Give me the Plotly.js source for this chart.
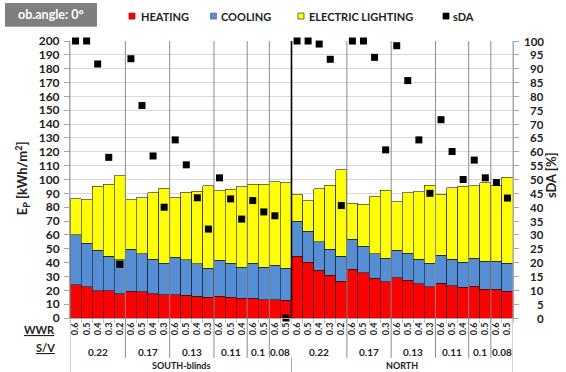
<!DOCTYPE html>
<html>
<head>
<meta charset="utf-8">
<script src="https://cdn.plot.ly/plotly-3.0.1.min.js"></script>
<style>html,body{margin:0;padding:0;background:#fff;}#chart{width:566px;height:372px;}</style>
</head>
<body>
<div id="chart"></div>
<script>
// ---- data ----
var wwr = ['0.6','0.5','0.4','0.3','0.2','0.6','0.5','0.4','0.3','0.6','0.5','0.4','0.3','0.6','0.5','0.4','0.6','0.5','0.6','0.5',
           '0.6','0.5','0.4','0.3','0.2','0.6','0.5','0.4','0.3','0.6','0.5','0.4','0.3','0.6','0.5','0.4','0.6','0.5','0.6','0.5'];
var svLabels = ['0.22','0.17','0.13','0.11','0.1','0.08'];
var svCounts = [5,4,4,3,2,2];
var regions = ['SOUTH-blinds','NORTH'];
var heating = [24,22.6,19.7,19.5,17.5,19.2,18.8,17.5,16.8,16.8,16.3,15.6,15.1,15.6,14.9,14.2,14.4,13.2,13.2,12.7,
               44.5,40.4,34.4,31,26.7,35.3,32.5,28.6,26,29.1,27.2,24.8,22.4,25.2,23.3,22.1,22.8,20.9,20.9,19.2];
var cooling = [36,31.4,29.1,25,24.5,30.6,27.6,25,22.9,27.2,25.7,23.4,20.9,26,24.8,22.6,25.3,23.6,25,23.1,
               25.2,22.1,20.6,18.8,17.8,21.4,19.2,17.8,17.3,19.7,19.7,17.7,17.3,20,19.2,18.3,20.2,20,20.2,20.2];
var lighting = [26,31.3,46.4,51.9,60.6,35.5,40.4,48.1,54.1,42.8,48.9,52.6,59.4,50.2,53.3,57.9,56.9,59.8,60.1,62,
                19.2,22.1,38.3,46.1,62.5,26.2,30.5,41.3,49,35.3,43.7,48.8,56.2,44,51.5,54.8,52.4,56.9,54.8,62.3];
var sda = [100,100,91.7,58,19.4,93.6,76.7,58.5,40,64.3,55.3,43.4,32.1,50.6,43,35.7,42.4,38.3,36.9,0,
           100,100,98.9,93.4,40.6,100,100,94.1,60.7,98.3,85.7,64.3,45,71.6,60.1,50,57,50.6,48.9,43.3];
var leftTicks = [0,10,20,30,40,50,60,70,80,90,100,110,120,130,140,150,160,170,180,190,200];
var rightTicks = [0,5,10,15,20,25,30,35,40,45,50,55,60,65,70,75,80,85,90,95,100];

// ---- build ----
var xs = wwr.map(function(_, i){ return i; });
var FONT = 'Lato, "Liberation Sans", sans-serif';
var outline = {color:'#1a1a1a', width:0.6};

var traces = [
  {type:'bar', x:xs, y:heating, name:'HEATING', marker:{color:'#FF0000', line:outline}},
  {type:'bar', x:xs, y:cooling, name:'COOLING', marker:{color:'#558ED5', line:outline}},
  {type:'bar', x:xs, y:lighting, name:'ELECTRIC LIGHTING', marker:{color:'#FFFF00', line:outline}},
  {type:'scatter', mode:'markers', x:xs, y:sda, yaxis:'y2', name:'sDA', cliponaxis:false,
   marker:{symbol:'square', size:7, color:'#000'}}
];

var shapes = [], annotations = [];
var perRegion = wwr.length / regions.length;
// group separators and labels
for (var r = 0; r < regions.length; r++) {
  var start = r * perRegion;
  var pos = start;
  for (var g = 0; g < svCounts.length; g++) {
    var center = pos + (svCounts[g] - 1) / 2;
    annotations.push({x:center, xref:'x', y:-0.123, yref:'paper', text:svLabels[g], showarrow:false,
      font:{family:FONT, size:10, color:'#222', weight:700}, xanchor:'center', yanchor:'middle'});
    pos += svCounts[g];
    if (g < svCounts.length - 1) {
      shapes.push({type:'line', xref:'x', yref:'paper', x0:pos-0.5, x1:pos-0.5, y0:-0.144, y1:1,
        line:{color:'#8c8c8c', width:1}, layer:'above'});
    }
  }
  annotations.push({x:start + (perRegion-1)/2, xref:'x', y:-0.172, yref:'paper', text:regions[r], showarrow:false,
    font:{family:FONT, size:9, color:'#222', weight:700}, xanchor:'center', yanchor:'middle'});
}
// edges
shapes.push({type:'line', xref:'x', yref:'paper', x0:-0.5, x1:-0.5, y0:-0.195, y1:1, line:{color:'#a6a6a6', width:1}});
shapes.push({type:'line', xref:'x', yref:'paper', x0:wwr.length-0.5, x1:wwr.length-0.5, y0:-0.195, y1:1, line:{color:'#a6a6a6', width:1}});
shapes.push({type:'line', xref:'x', yref:'paper', x0:perRegion-0.5, x1:perRegion-0.5, y0:-0.195, y1:-0.144, line:{color:'#a6a6a6', width:1}});
shapes.push({type:'line', xref:'x', yref:'paper', x0:perRegion-0.5, x1:perRegion-0.5, y0:0, y1:1, line:{color:'#000', width:1.6}, layer:'above'});

// row labels
annotations.push({x:-0.03, xref:'paper', y:-0.04, yref:'paper', text:'<u>WWR</u>', showarrow:false, xanchor:'right', yanchor:'middle',
  font:{family:FONT, size:11, color:'#222', weight:700}});
annotations.push({x:-0.03, xref:'paper', y:-0.108, yref:'paper', text:'<u>S/V</u>', showarrow:false, xanchor:'right', yanchor:'middle',
  font:{family:FONT, size:11, color:'#222', weight:700}});

// axis titles
annotations.push({x:-0.108, xref:'paper', y:0.505, yref:'paper', text:'E<sub>P</sub> [kWh/m<sup>2</sup>]', showarrow:false,
  textangle:-90, xanchor:'center', yanchor:'middle', font:{family:FONT, size:13, color:'#222', weight:700}});
annotations.push({x:1.0858, xref:'paper', y:0.516, yref:'paper', text:'sDA [%]', showarrow:false,
  textangle:-90, xanchor:'center', yanchor:'middle', font:{family:FONT, size:13, color:'#222', weight:700}});

// right axis labels (right-aligned)
rightTicks.forEach(function(v){
  annotations.push({x:1.0722, xref:'paper', y:v, yref:'y2', text:String(v), showarrow:false, xanchor:'right', yanchor:'middle',
    height:11, borderpad:0, valign:'middle',
    font:{family:FONT, size:11.5, color:'#222', weight:700}});
});

// top box and legend
shapes.push({type:'rect', xref:'paper', yref:'paper', x0:-0.1467, x1:0.0609, y0:1.051, y1:1.137, fillcolor:'#7f7f7f', line:{width:0}});
annotations.push({x:-0.0429, xref:'paper', y:1.094, yref:'paper', text:'ob.angle: 0°', showarrow:false, xanchor:'center', yanchor:'middle',
  font:{family:FONT, size:12.5, color:'#fff', weight:700}});
var legendItems = [
  {px:132, tx:139, color:'#FF0000', line:'#b00000'},
  {px:213.5, tx:219, color:'#558ED5', line:'#3a6aa8'},
  {px:301, tx:307, color:'#FFFF00', line:'#333'},
  {px:446, tx:451, color:'#000000', line:'#000'}
];
legendItems.forEach(function(it, i){
  var xp = (it.px - 70) / 443;
  shapes.push({type:'rect', xref:'paper', yref:'paper', xsizemode:'pixel', ysizemode:'pixel', xanchor:xp, yanchor:1.09,
    x0:-3, x1:3, y0:-3, y1:3, fillcolor:it.color, line:{color:it.line, width:0.7}});
  annotations.push({x:(it.tx - 70)/443, xref:'paper', y:1.09, yref:'paper', text:traces[i].name, showarrow:false,
    xanchor:'left', yanchor:'middle', font:{family:FONT, size:11, color:'#222', weight:700}});
});

var layout = {
  width:566, height:372,
  margin:{l:70, r:53, t:41, b:54, pad:0},
  paper_bgcolor:'#fff', plot_bgcolor:'#fff',
  barmode:'stack', bargap:0, showlegend:false,
  font:{family:FONT, color:'#222'},
  xaxis:{range:[-0.5, wwr.length-0.5], tickvals:xs, ticktext:wwr, tickangle:-90, ticks:'',
    tickfont:{family:FONT, size:9, color:'#222', weight:700}, showgrid:false, zeroline:false,
    showline:true, linecolor:'#a6a6a6', linewidth:1,
    minor:{tick0:0.5, dtick:1, ticks:'outside', ticklen:4, tickcolor:'#bfbfbf', showgrid:false}},
  yaxis:{range:[0,200], tickvals:leftTicks, ticks:'outside', ticklen:5, tickcolor:'#a6a6a6',
    tickfont:{family:FONT, size:12, color:'#222', weight:700}, ticklabelstandoff:2,
    showgrid:true, gridcolor:'#d9d9d9', gridwidth:1, zeroline:false, showline:true, linecolor:'#a6a6a6'},
  yaxis2:{range:[0,100], tickvals:rightTicks, overlaying:'y', side:'right', ticks:'outside', ticklen:5, tickcolor:'#a6a6a6',
    showticklabels:false, showgrid:false, zeroline:false, showline:true, linecolor:'#a6a6a6'},
  shapes:shapes, annotations:annotations
};

Plotly.newPlot('chart', traces, layout, {staticPlot:true, displayModeBar:false});
</script>
</body>
</html>
